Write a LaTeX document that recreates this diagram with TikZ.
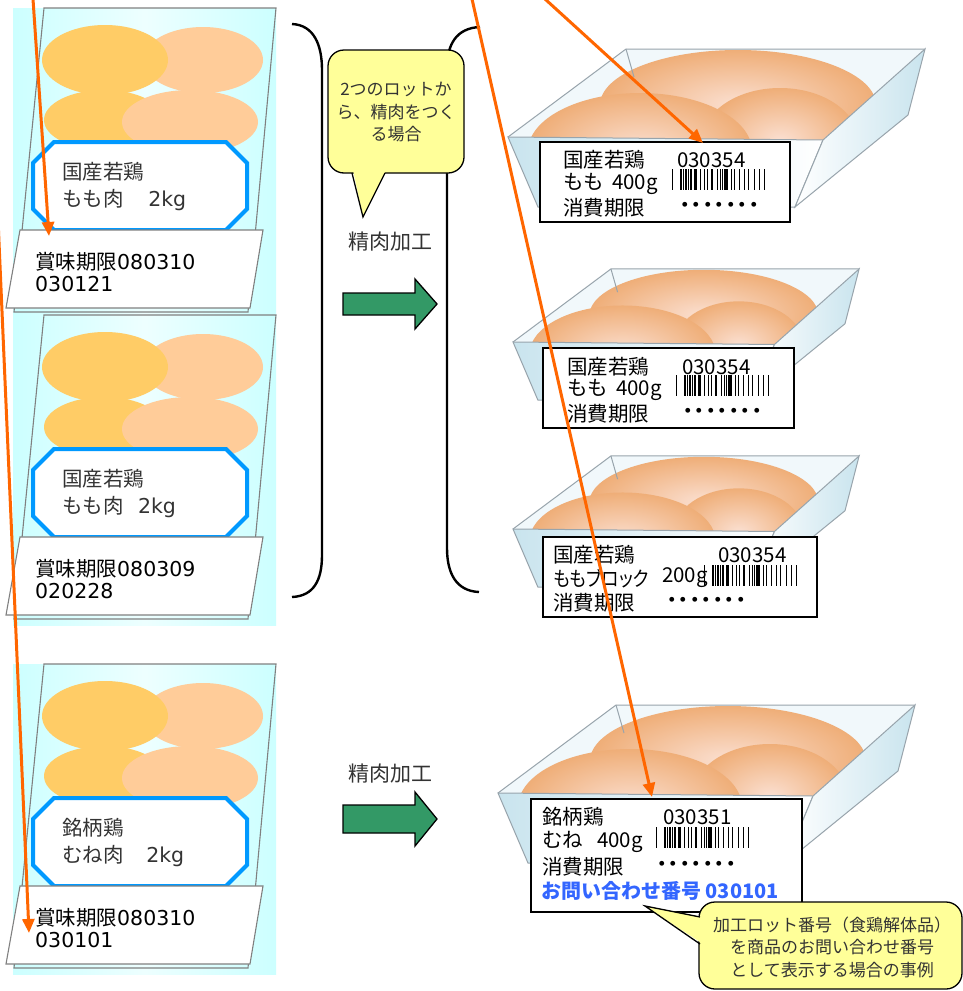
\documentclass[tikz,border=0pt]{standalone}
\usepackage{fontspec}
\setmainfont{Noto Sans CJK JP}
\newfontfamily\numfont{DejaVu Sans}
\newfontfamily\propfont[RawFeature=+palt]{Noto Sans CJK JP}
\usetikzlibrary{arrows.meta,positioning}

\definecolor{bagcyan}{HTML}{CCFFFF}
\definecolor{legcol}{HTML}{FFCC66}
\definecolor{breastcol}{HTML}{FFCC99}
\definecolor{tagblue}{HTML}{0099FF}
\definecolor{lotorange}{HTML}{FF6600}
\definecolor{arrowgreen}{HTML}{339966}
\definecolor{notecol}{HTML}{FFFF99}
\definecolor{meatout}{HTML}{EFAE78}
\definecolor{meatin}{HTML}{FBE0D2}
\definecolor{traywall}{HTML}{C9E4EE}
\definecolor{trayedge}{HTML}{98A4AC}
\definecolor{askblue}{HTML}{3366FF}
\definecolor{inkgray}{HTML}{333333}

\begin{document}
\begin{tikzpicture}[x=1pt,y=-1pt,
  bagline/.style={draw=gray,line width=1.1pt},
  tagline/.style={draw=tagblue,line width=4pt,fill=white},
  bagtext/.style={anchor=west,inner sep=0pt,text=inkgray,font=\fontsize{20.5}{24}\selectfont},
  datetext/.style={anchor=west,inner sep=0pt,font=\fontsize{20.5}{24}\selectfont},
  meat/.style={inner color=meatin,outer color=meatout},
  trayline/.style={draw=trayedge,line width=1pt},
  traybox/.style={draw,line width=1.8pt,fill=white,anchor=north west,inner sep=0pt},
  traytext/.style={anchor=west,inner sep=0pt,font=\fontsize{20.5}{24}\selectfont},
  dottext/.style={anchor=west,inner sep=0pt,font=\fontsize{23}{24}\selectfont\bfseries},
  steptext/.style={inner sep=0pt,text=inkgray,font=\fontsize{21}{24}\selectfont},
  greenarrow/.style={fill=arrowgreen,draw,line width=1.3pt},
  brace/.style={draw,line width=2.4pt},
  notebox/.style={fill=notecol,draw,line width=1.3pt,rounded corners=16pt},
  notetail/.style={draw,line width=1.3pt},
  notetext/.style={align=center,inner sep=0pt,text=inkgray,font=\fontsize{17}{22.5}\selectfont},
  lotarrow/.style={draw=lotorange,line width=3pt,-{Triangle[length=14pt,width=12pt]}},
  pics/barcode/.style={code={
    \foreach \bx/\bw in {0/1.2,8.3/1.2,11/1.2,13.3/1.2,15.7/1.2,18.3/1.2,22/3,28/1.2,31.7/1.2,35/1.2,38.5/2,45/1.2,47.7/1.2,50/1.2,52/4,59/1.2,61.7/1.2,66.7/1.2,71.7/1.2,76/1.2,81.7/1.2,86.7/1.2,91.7/1.2}
      \fill (\bx,0) rectangle ++(\bw,21);
  }}]
  \useasboundingbox[fill=white] (0,0) rectangle (963,991);

  % bags of raw chicken
  \foreach \i/\oy/\brandname/\cutname/\bestby/\lotno in {1/0/国産若鶏/{もも肉\hspace{1.2em}{\numfont 2kg}}/080310/030121,2/307/国産若鶏/{もも肉\hspace{0.7em}{\numfont 2kg}}/080309/020228,3/656/銘柄鶏/{むね肉\hspace{1.1em}{\numfont 2kg}}/080310/030101}{
    \begin{scope}[shift={(13,8+\oy)}]
      \shade[left color=bagcyan,right color=bagcyan,middle color=bagcyan!35] (0,0) rectangle (263,310);
      \draw[bagline] (31,0) -- (263,0) -- (235,304) -- (1,304) -- cycle;
      \fill[breastcol] (190,52) ellipse [x radius=60,y radius=33];
      \fill[legcol] (92,52) ellipse [x radius=63,y radius=35];
      \fill[legcol] (91,112) ellipse [x radius=60,y radius=30];
      \fill[breastcol] (177,114) ellipse [x radius=68,y radius=32];
      \draw[tagline] (41,134) -- (213,134) -- (234,155) -- (234,201) -- (213,222) -- (41,222) -- (20,201) -- (20,155) -- cycle;
      \node[bagtext] (brand\i) at (49,164) {\brandname};
      \node[bagtext] (cut\i) at (49,192) {\cutname};
      \draw[bagline,fill=white] (7,222) -- (250,222) -- (237,300) -- (-7,300) -- cycle;
      \node[datetext] (best\i) at (22,254) {賞味期限{\numfont\bestby}};
      \node[datetext] (lot\i) at (22,276) {\numfont\lotno};
    \end{scope}
  }

  % brackets, note and processing arrows
  \draw[brace] (292,24) .. controls (314,25) and (322,45) .. (322,70) -- (322,555) .. controls (322,580) and (314,596) .. (292,597);
  \draw[brace] (480,27) .. controls (456,28) and (447,45) .. (447,68) -- (447,548) .. controls (447,573) and (456,591) .. (479,592);
  \draw[notebox] (328,50) rectangle (464,173);
  \fill[notecol] (353,170) -- (363,217) -- (386,170) -- cycle;
  \draw[notetail] (352,173) -- (363,217) -- (385,173);
  \node[notetext] (note1) at (396,112) {2つのロットか\\ら、精肉をつく\\る場合};
  \foreach \k/\ay/\py/\sh/\hh in {1/304/242/11/25,2/819/774/14/27}{
    \node[steptext] (proc\k) at (390,\py) {精肉加工};
    \draw[greenarrow] (343,\ay-\sh) -- (415,\ay-\sh) -- (415,\ay-\hh) -- (437,\ay) -- (415,\ay+\hh) -- (415,\ay+\sh) -- (343,\ay+\sh) -- cycle;
  }

  % trays of cut meat
  \foreach \j/\tx/\ty/\ts in {1/508/137/1,2/513/342/0.83,3/513/529/0.83,4/498/793/1}{
    \begin{scope}[shift={(\tx,\ty)},scale=\ts]
      \fill[traywall!25] (0,0) -- (118,-88) -- (417,-88) -- (315,3) -- cycle;
      \begin{scope}
        \clip (0,0) -- (118,-88) -- (417,-88) -- (315,3) -- cycle;
        \shade[meat] (230,-32) ellipse [x radius=138,y radius=55];
        \shade[meat] (272,4) ellipse [x radius=78,y radius=53];
        \shade[meat] (132,14) ellipse [x radius=112,y radius=58];
      \end{scope}
      \shadedraw[trayline,left color=traywall,right color=white] (0,0) -- (315,3) -- (287,70) -- (30,70) -- cycle;
      \shadedraw[trayline,left color=white,right color=traywall] (315,3) -- (417,-88) -- (400,-22) -- (287,70) -- cycle;
      \draw[trayline] (0,0) -- (118,-88) -- (417,-88);
      \draw[trayline] (118,-88) -- (126,-60);
    \end{scope}
  }

  % tray labels
  \node[traybox,minimum width=250pt,minimum height=80pt] (tag1) at (539,141) {};
  \node[traytext] (kind1) at (563,160) {国産若鶏};
  \node[traytext] (code1) at (677,160) {030354};
  \node[traytext] (part1) at (563,184) {もも\hspace{8pt}400g};
  \pic (bar1) at (672,169) {barcode};
  \node[traytext] (use1) at (563,208) {消費期限};
  \node[dottext] (dots1) at (679,208) {･･･････};

  \node[traybox,minimum width=251pt,minimum height=80pt] (tag2) at (542,347) {};
  \node[traytext] (kind2) at (567,367) {国産若鶏};
  \node[traytext] (code2) at (682,367) {030354};
  \node[traytext] (part2) at (567,390) {もも\hspace{8pt}400g};
  \pic (bar2) at (676,375) {barcode};
  \node[traytext] (use2) at (567,414) {消費期限};
  \node[dottext] (dots2) at (682,414) {･･･････};

  \node[traybox,minimum width=274pt,minimum height=80pt] (tag3) at (542,536) {};
  \node[traytext] (kind3) at (553,555) {国産若鶏};
  \node[traytext] (code3) at (718,555) {030354};
  \node[traytext] (part3) at (553,578) {\scalebox{0.86}[1]{\propfont ももブロック}};
  \node[traytext] (wt3) at (662,578) {200g};
  \pic (bar3) at (704,565) {barcode};
  \node[traytext] (use3) at (553,603) {消費期限};
  \node[dottext] (dots3) at (666,603) {･･･････};

  \node[traybox,minimum width=271pt,minimum height=113pt] (tag4) at (530,798) {};
  \node[traytext] (kind4) at (542,817) {銘柄鶏};
  \node[traytext] (code4) at (663,817) {030351};
  \node[traytext] (part4) at (542,842) {むね\hspace{14pt}400g};
  \pic (bar4) at (656,827) {barcode};
  \node[traytext] (use4) at (542,867) {消費期限};
  \node[dottext] (dots4) at (656,867) {･･･････};
  \node[traytext,text=askblue,font=\fontsize{20}{24}\selectfont\bfseries] (ask4) at (541,891) {お問い合わせ番号 030101};

  % note on the lot number
  \draw[notebox] (699,902) rectangle (962,989);
  \fill[notecol] (703,917) -- (645,906) -- (703,944) -- cycle;
  \draw[notetail] (700,917) -- (645,906) -- (700,944);
  \node[notetext] (note2) at (832,947) {加工ロット番号（食鶏解体品）\\を商品のお問い合わせ番号\\として表示する場合の事例};

  % lot links
  \coordinate (src1) at (33,-1);
  \coordinate (dst1) at (49,236);
  \coordinate (src2) at (-5,150);
  \coordinate (dst2) at (29,933);
  \coordinate (src3) at (472,-1);
  \coordinate (dst3) at (652,797);
  \coordinate (src4) at (545,-1);
  \coordinate (dst4) at (703,143);
  \foreach \n in {1,...,4}
    \draw[lotarrow] (src\n) -- (dst\n);
\end{tikzpicture}
\end{document}
